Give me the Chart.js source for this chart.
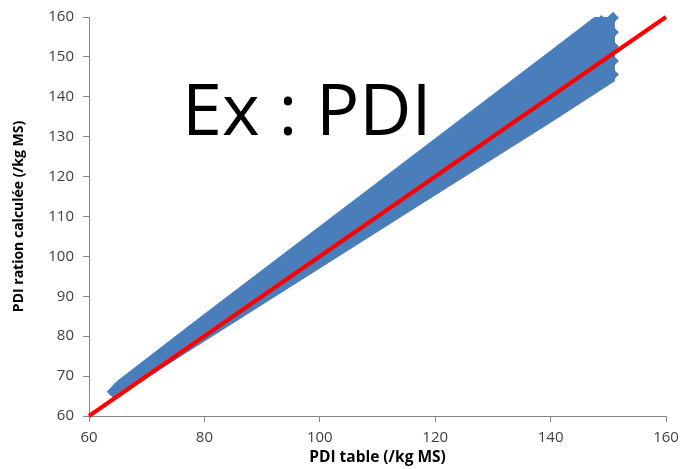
<!DOCTYPE html>
<html>
<head>
<meta charset="utf-8">
<script src="https://cdn.jsdelivr.net/npm/chart.js@4/dist/chart.umd.min.js"></script>
<style>
  html, body { margin: 0; padding: 0; background: #fff; }
  #wrap { width: 683px; height: 469px; position: relative; }
</style>
</head>
<body>
<div id="wrap"><canvas id="pdiChart" width="683" height="469"></canvas></div>
<script>
// band outline (upper edge left->right, lower edge right->left)
const bandTopX = [63.1, 64.8, 80, 100, 120, 140, 147.7, 151.0];
const bandTopY = [66.0, 68.6, 85.5, 107.5, 129.5, 151.5, 160.0, 160.0];
const bandBottomX = [151.0, 140, 120, 100, 80, 64.3];
const bandBottomY = [143.9, 133.6, 115.4, 97.1, 78.8, 64.4];

// last column of diamonds at the right end of the cloud
const endX = [148.8, 150.8, 150.8, 150.8, 150.8, 150.8];
const endY = [159.0, 159.8, 156.2, 152.6, 149.0, 145.6];

// y = x reference line
const lineX = [60, 160];
const lineY = [60, 160];

const xTicks = [60, 80, 100, 120, 140, 160];
const yTicks = [60, 70, 80, 90, 100, 110, 120, 130, 140, 150, 160];

const blue = "#4a7ebb";
const axisGrey = "#868686";
const tickFont = { family: "Open Sans", size: 15 };

const toPoints = (xs, ys) => xs.map((x, i) => ({ x: x, y: ys[i] }));
const bandPoints = toPoints(bandTopX, bandTopY).concat(toPoints(bandBottomX, bandBottomY));

const bigText = {
  id: "bigText",
  afterDraw(chart) {
    const ctx = chart.ctx;
    ctx.save();
    ctx.fillStyle = "#000";
    ctx.font = "72px 'Open Sans'";
    ctx.textAlign = "left";
    ctx.textBaseline = "alphabetic";
    ctx.fillText("Ex : PDI", 182, 135);
    ctx.restore();
  }
};

new Chart(document.getElementById("pdiChart").getContext("2d"), {
  type: "scatter",
  data: {
    datasets: [
      {
        label: "y = x",
        data: toPoints(lineX, lineY),
        showLine: true,
        borderColor: "#ff0000",
        borderWidth: 4,
        pointRadius: 0,
        clip: false,
        order: 0
      },
      {
        label: "end",
        data: toPoints(endX, endY),
        pointStyle: "rectRot",
        pointRadius: 6,
        backgroundColor: blue,
        borderColor: blue,
        borderWidth: 0,
        clip: false,
        order: 1
      },
      {
        label: "band",
        data: bandPoints,
        showLine: true,
        fill: "shape",
        backgroundColor: blue,
        borderColor: blue,
        borderWidth: 1,
        tension: 0,
        pointRadius: 0,
        order: 2
      }
    ]
  },
  options: {
    responsive: false,
    animation: false,
    events: [],
    layout: { padding: { left: 0, right: 17, top: 17, bottom: 0 } },
    plugins: {
      legend: { display: false },
      tooltip: { enabled: false }
    },
    scales: {
      x: {
        type: "linear",
        min: 60,
        max: 160,
        afterBuildTicks: s => { s.ticks = xTicks.map(v => ({ value: v })); },
        afterFit: s => { s.height = 53; s.paddingRight = 0; s.paddingLeft = 0; },
        border: { display: true, color: axisGrey, width: 1 },
        grid: { drawOnChartArea: false, drawTicks: true, tickLength: 6, color: axisGrey },
        ticks: { font: tickFont, color: "#404040", padding: 7, maxRotation: 0 },
        title: {
          display: true, text: "PDI table (/kg MS)", color: "#000",
          font: { family: "Open Sans", size: 15.5, weight: "bold" },
          padding: { top: 0, bottom: 2 }
        }
      },
      y: {
        type: "linear",
        min: 60,
        max: 160,
        afterBuildTicks: s => { s.ticks = yTicks.map(v => ({ value: v })); },
        afterFit: s => { s.width = 89; s.paddingTop = 0; s.paddingBottom = 0; },
        border: { display: true, color: axisGrey, width: 1 },
        grid: { drawOnChartArea: false, drawTicks: true, tickLength: 6, color: axisGrey },
        ticks: { font: tickFont, color: "#404040", padding: 9 },
        title: {
          display: true, text: "PDI ration calculée (/kg MS)", color: "#000",
          font: { family: "Open Sans", size: 14, weight: "bold" },
          padding: { top: 11, bottom: 0 }
        }
      }
    }
  },
  plugins: [bigText]
});
</script>
</body>
</html>
